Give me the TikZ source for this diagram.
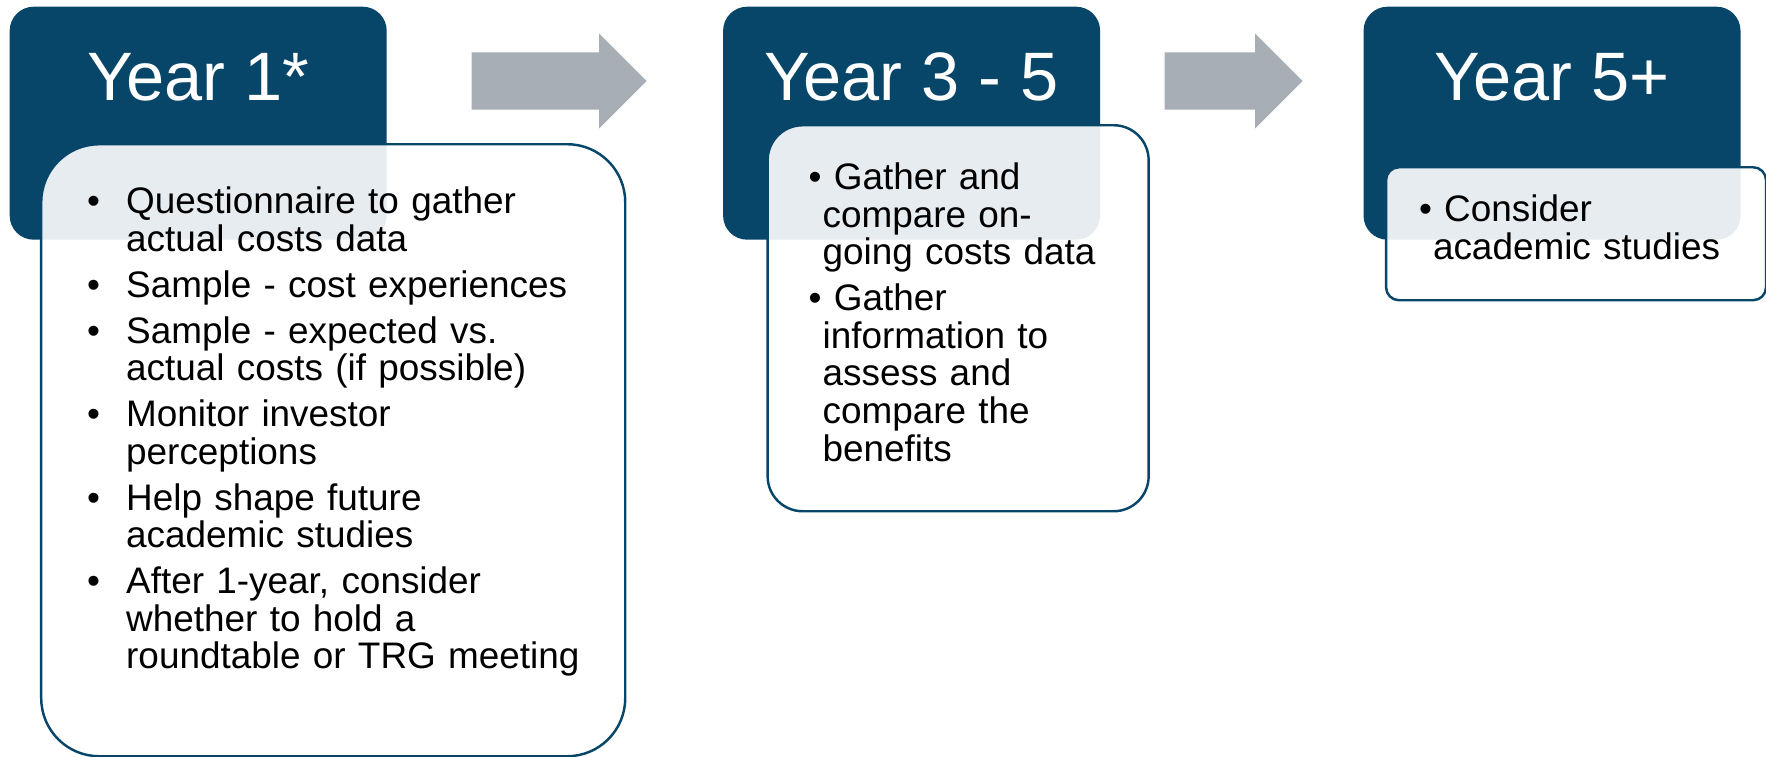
\documentclass[tikz,border=0pt]{standalone}
\usepackage{fontspec}
\setmainfont{Liberation Sans}
\usetikzlibrary{positioning, calc, shapes.arrows}

\definecolor{yearblue}{RGB}{8,70,105}
\definecolor{arrowgrey}{RGB}{168,174,182}

% list items: tab-style bullet (first box) and bullet plus space (other boxes)
\newcommand{\tabitem}[1]{\par\noindent\hangindent=0.39cm\hangafter=1\makebox[0.39cm][l]{\textbullet}#1\par}
\newcommand{\dotitem}[1]{\par\noindent\hangindent=0.14cm\hangafter=1\textbullet\ #1\par}
\newcommand{\firstline}{\rule{0pt}{0.28cm}}

\begin{document}
\begin{tikzpicture}[
        yearbox/.style={
            fill=yearblue,
            rounded corners=0.24cm,
            minimum width=3.77cm,
            minimum height=2.33cm,
            inner sep=0pt
        },
        yeartitle/.style={
            text=white,
            inner sep=0pt,
            font=\fontsize{19.5}{22}\selectfont
        },
        notebox/.style={
            draw=yearblue,
            line width=0.7pt,
            fill=white,
            fill opacity=0.9,
            inner sep=0pt
        },
        notetext/.style={
            anchor=north west,
            inner sep=0pt,
            align=left,
            font=\fontsize{10.5}{10.7}\selectfont
        },
        stepflow/.style={
            shape=single arrow,
            fill=arrowgrey,
            inner xsep=0pt,
            inner ysep=0.28cm,
            minimum width=0.94cm,
            single arrow head extend=0.19cm,
            single arrow tip angle=90
        }
    ]
        \useasboundingbox (0,0) rectangle (17.66,-7.56);

        % dark year boxes (left to right)
        \node[yearbox, anchor=north west] (y1) at (0.09,-0.06) {};
        \node[yearbox, right=3.35cm of y1] (y2) {};
        \node[yearbox, right=2.62cm of y2] (y3) {};
        \node[yeartitle, anchor=base] (t1) at ($(y1.north)+(0,-0.94)$) {Year 1*};
        \node[yeartitle, anchor=base] (t2) at ($(y2.north)+(0,-0.94)$) {Year 3 - 5};
        \node[yeartitle, anchor=base] (t3) at ($(y3.north)+(0,-0.94)$) {Year 5+};

        % grey arrows between the years
        \node[stepflow, minimum height=1.75cm, anchor=west] (a1) at (4.71,-0.81) {};
        \node[stepflow, minimum height=1.38cm, anchor=west] (a2) at (11.64,-0.81) {};

        % white note boxes over the year boxes
        \node[notebox, anchor=north west, minimum width=5.84cm, minimum height=6.12cm,
            rounded corners=0.58cm] (n1) at ($(y1.north west)+(0.31,-1.37)$) {};
        \node[notebox, anchor=north west, minimum width=3.81cm, minimum height=3.86cm,
            rounded corners=0.35cm] (n2) at ($(y2.north west)+(0.44,-1.18)$) {};
        \node[notebox, anchor=north west, minimum width=3.80cm, minimum height=1.33cm,
            rounded corners=0.13cm] (n3) at ($(y3.north west)+(0.22,-1.60)$) {};

        % note texts
        \node[notetext, text width=5.3cm] (l1) at ($(n1.north west)+(0.465,-0.24)$) {%
            \setlength{\parskip}{0.083cm}%
            \tabitem{\firstline Questionnaire to gather\newline actual costs data}
            \tabitem{Sample - cost experiences}
            \tabitem{Sample - expected vs.\newline actual costs (if possible)}
            \tabitem{Monitor investor\newline perceptions}
            \tabitem{Help shape future\newline academic studies}
            \tabitem{After 1-year, consider\newline whether to hold a\newline roundtable or TRG meeting}};
        \node[notetext, text width=3.2cm] (l2) at ($(n2.north west)+(0.415,-0.19)$) {%
            \setlength{\parskip}{0.083cm}%
            \dotitem{\firstline Gather and\newline compare on-\newline going costs data}
            \dotitem{Gather\newline information to\newline assess and\newline compare the\newline benefits}};
        \node[notetext, text width=3.3cm] (l3) at ($(n3.north west)+(0.335,-0.09)$) {%
            \setlength{\parskip}{0.083cm}%
            \dotitem{\firstline Consider\newline academic studies}};
    \end{tikzpicture}
\end{document}
